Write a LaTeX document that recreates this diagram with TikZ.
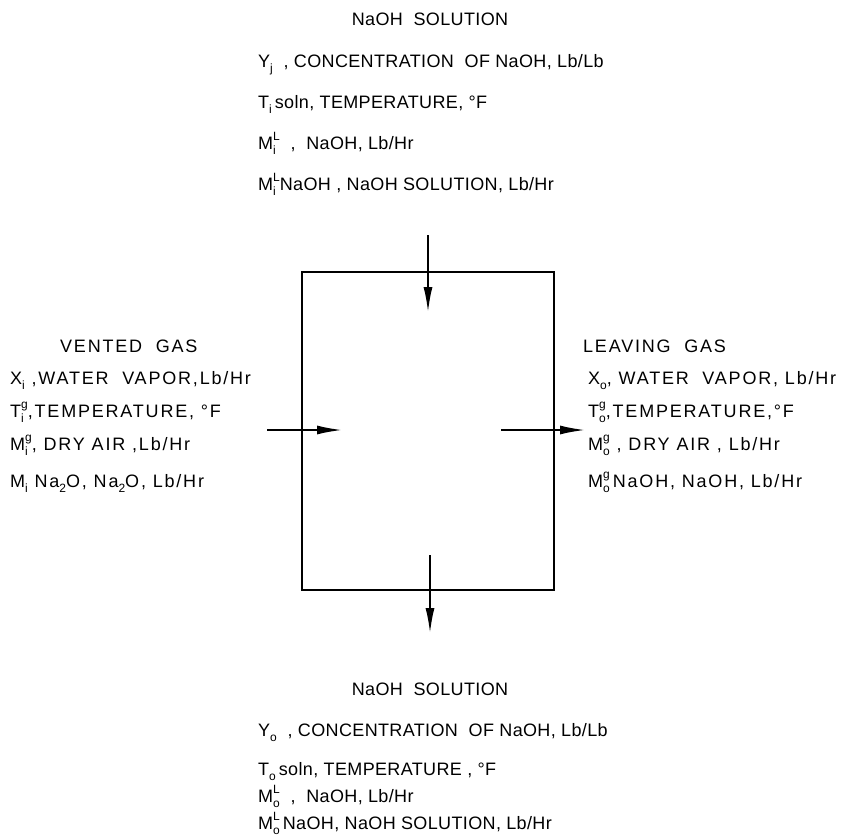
\documentclass[tikz,border=0pt]{standalone}
\usepackage{fontspec}
\setmainfont{Liberation Sans}[LetterSpace=2]
\usetikzlibrary{arrows.meta}
\newcommand{\scriptletters}{\fontsize{12}{12}\selectfont}
\newcommand{\lowidx}[1]{\raisebox{-0.28em}{\scriptletters #1}}
\newcommand{\varsym}[3]{#1%
  \sbox0{\scriptletters #2}\sbox2{\scriptletters #3}%
  \makebox[0pt][l]{\raisebox{0.45em}{\usebox0}}%
  \makebox[0pt][l]{\raisebox{-0.3em}{\usebox2}}%
  \ifdim\wd0>\wd2 \hspace{\wd0}\else\hspace{\wd2}\fi}

\begin{document}
\begin{tikzpicture}[x=1pt,y=-1pt,
  every node/.style={font=\fontsize{18}{21}\selectfont},
  wide/.style={font=\fontsize{18}{21}\selectfont\addfontfeature{LetterSpace=10}},
  flow/.style={line width=1.8pt,-{Latex[length=25pt,width=9pt]}}]

      \useasboundingbox (0,0) rectangle (848,839);

      \node[draw,line width=1.7pt,minimum width=252pt,minimum height=318pt] (cell) at (428,431) {};

      % solution in
      \begin{scope}[every node/.append style={anchor=base west,inner sep=0pt}]
        \node[anchor=base] (topname) at (430,25) {NaOH\ \ SOLUTION};
        \node (yin)   at (258,67)  {Y\lowidx{j}\ \ , CONCENTRATION\ \ OF NaOH, Lb/Lb};
        \node (tin)   at (258,108) {T\lowidx{i}\,soln, TEMPERATURE, °F};
        \node (mlin)  at (258,149) {\varsym{M}{L}{i}\ \ ,\ \ NaOH, Lb/Hr};
        \node (msin)  at (258,190) {\varsym{M}{L}{i}NaOH\ , NaOH SOLUTION, Lb/Hr};
      \end{scope}

      % gas in
      \begin{scope}[every node/.append style={wide,anchor=base west,inner sep=0pt}]
        \node (leftname) at (60,352) {VENTED\ \ GAS};
        \node (xin)   at (10,384) {X\lowidx{i}\ ,WATER\ \ VAPOR,Lb/Hr};
        \node (tgin)  at (10,417) {\varsym{T}{g}{i},TEMPERATURE, °F};
        \node (mgin)  at (10,450) {\varsym{M}{g}{i}, DRY AIR\ ,Lb/Hr};
        \node (mnin)  at (10,487) {M\lowidx{i} Na\lowidx{2}O, Na\lowidx{2}O, Lb/Hr};
      \end{scope}

      % gas out
      \begin{scope}[every node/.append style={wide,anchor=base west,inner sep=0pt}]
        \node (rightname) at (583,352) {LEAVING\ \ GAS};
        \node (xout)  at (588,384) {X\lowidx{o}, WATER\ \ VAPOR, Lb/Hr};
        \node (tgout) at (588,417) {\varsym{T}{g}{o},TEMPERATURE,°F};
        \node (mgout) at (588,450) {\varsym{M}{g}{o}\ , DRY AIR\ , Lb/Hr};
        \node (mnout) at (588,487) {\varsym{M}{g}{o}\,NaOH, NaOH, Lb/Hr};
      \end{scope}

      % solution out
      \begin{scope}[every node/.append style={anchor=base west,inner sep=0pt}]
        \node[anchor=base] (botname) at (430,695) {NaOH\ \ SOLUTION};
        \node (yout)  at (258,736) {Y\lowidx{o}\ \ , CONCENTRATION\ \ OF NaOH, Lb/Lb};
        \node (tout)  at (258,775) {T\lowidx{o}\,soln, TEMPERATURE\ , °F};
        \node (mlout) at (258,802) {\varsym{M}{L}{o}\ \ ,\ \ NaOH, Lb/Hr};
        \node (msout) at (258,829) {\varsym{M}{L}{o}\,NaOH, NaOH SOLUTION, Lb/Hr};
      \end{scope}

      \coordinate (topa) at (428,235);
      \coordinate (topb) at (428,312);
      \coordinate (lefta) at (267,430);
      \coordinate (leftb) at (342,430);
      \coordinate (righta) at (501,430);
      \coordinate (rightb) at (585,430);
      \coordinate (bota) at (430,555);
      \coordinate (botb) at (430,633);

      \draw[flow] (topa) -- (topb);
      \draw[flow] (lefta) -- (leftb);
      \draw[flow] (righta) -- (rightb);
      \draw[flow] (bota) -- (botb);

    \end{tikzpicture}
\end{document}
